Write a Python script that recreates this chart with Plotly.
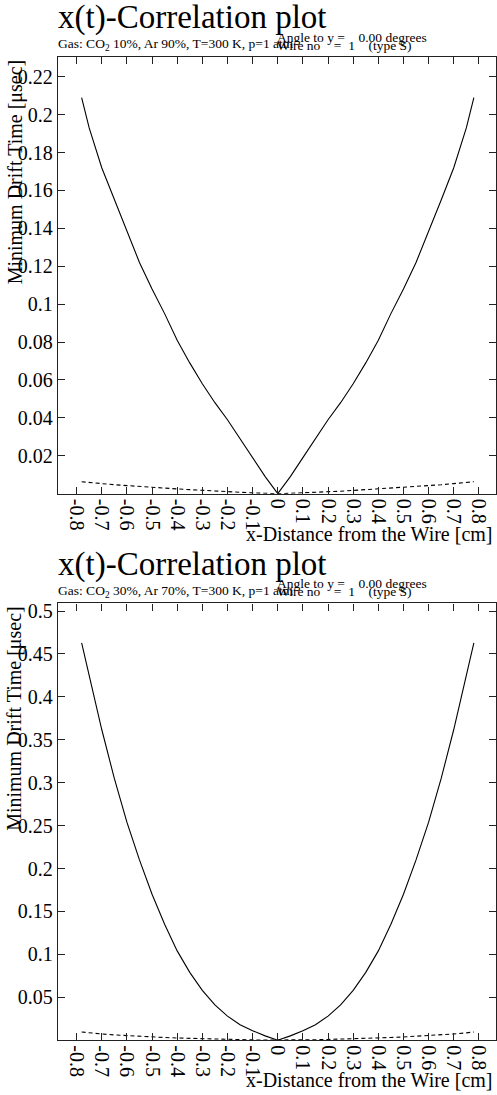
import plotly.graph_objects as go

# ---------------- data ----------------
x_dist = [-0.78, -0.75, -0.70, -0.65, -0.60, -0.55, -0.50, -0.45, -0.40, -0.35, -0.30,
          -0.25, -0.20, -0.15, -0.10, -0.05, 0.0, 0.05, 0.10, 0.15, 0.20, 0.25, 0.30,
          0.35, 0.40, 0.45, 0.50, 0.55, 0.60, 0.65, 0.70, 0.75, 0.78]

# panel 1 : CO2 10%, Ar 90%
t_min_1 = [0.209, 0.193, 0.172, 0.155, 0.138, 0.122, 0.108, 0.095, 0.081, 0.069, 0.058,
           0.048, 0.039, 0.029, 0.019, 0.009, 0.0, 0.009, 0.019, 0.029, 0.039, 0.048, 0.058,
           0.069, 0.081, 0.095, 0.108, 0.122, 0.138, 0.155, 0.172, 0.193, 0.209]
t_dash_1 = [0.0063, 0.0058, 0.0053, 0.0047, 0.0042, 0.0037, 0.0033, 0.0029, 0.0025, 0.0021, 0.0017,
            0.0013, 0.0010, 0.0007, 0.0004, 0.0002, 0.0, 0.0002, 0.0004, 0.0007, 0.0010, 0.0013, 0.0017,
            0.0021, 0.0025, 0.0029, 0.0033, 0.0037, 0.0042, 0.0047, 0.0053, 0.0058, 0.0063]

# panel 2 : CO2 30%, Ar 70%
t_min_2 = [0.463, 0.425, 0.362, 0.305, 0.254, 0.210, 0.170, 0.135, 0.104, 0.079, 0.058,
           0.041, 0.028, 0.018, 0.011, 0.005, 0.0, 0.005, 0.011, 0.018, 0.028, 0.041, 0.058,
           0.079, 0.104, 0.135, 0.170, 0.210, 0.254, 0.305, 0.362, 0.425, 0.463]
t_dash_2 = [0.0095, 0.0085, 0.0072, 0.0061, 0.0052, 0.0044, 0.0037, 0.0031, 0.0025, 0.0020, 0.0015,
            0.0011, 0.0008, 0.0005, 0.0003, 0.0001, 0.0, 0.0001, 0.0003, 0.0005, 0.0008, 0.0011, 0.0015,
            0.0020, 0.0025, 0.0031, 0.0037, 0.0044, 0.0052, 0.0061, 0.0072, 0.0085, 0.0095]

x_tickvals = [-0.8, -0.7, -0.6, -0.5, -0.4, -0.3, -0.2, -0.1, 0.0, 0.1, 0.2, 0.3, 0.4, 0.5, 0.6, 0.7, 0.8]
x_ticktext = ["-0.8", "-0.7", "-0.6", "-0.5", "-0.4", "-0.3", "-0.2", "-0.1", "0",
              "0.1", "0.2", "0.3", "0.4", "0.5", "0.6", "0.7", "0.8"]
y1_tickvals = [0.02, 0.04, 0.06, 0.08, 0.10, 0.12, 0.14, 0.16, 0.18, 0.20, 0.22]
y1_ticktext = ["0.02", "0.04", "0.06", "0.08", "0.1", "0.12", "0.14", "0.16", "0.18", "0.2", "0.22"]
y2_tickvals = [0.05, 0.10, 0.15, 0.20, 0.25, 0.30, 0.35, 0.40, 0.45, 0.50]
y2_ticktext = ["0.05", "0.1", "0.15", "0.2", "0.25", "0.3", "0.35", "0.4", "0.45", "0.5"]

gas_texts = ["Gas: CO<sub>2</sub> 10%, Ar 90%, T=300 K, p=1 atm",
             "Gas: CO<sub>2</sub> 30%, Ar 70%, T=300 K, p=1 atm"]
title_text = "x(t)-Correlation plot"
angle_text = "Angle to y =\u00a0\u00a0\u00a0\u00a00.00 degrees"
wire_text = "Wire no\u00a0\u00a0\u00a0\u00a0=\u00a0\u00a01\u00a0\u00a0\u00a0\u00a0(type S)"
x_title = "x-Distance from the Wire [cm]"
y_title = "Minimum Drift Time [\u03bcsec]"

# ---------------- layout helpers ----------------
W, H = 497, 1095
FONT = "Liberation Serif"
def px(x):
    return x / W
def py(y):
    return 1 - y / H

fig = go.Figure()
panels = [(t_min_1, t_dash_1, "x", "y", 0), (t_min_2, t_dash_2, "x2", "y2", 548)]
for tmin, tdash, xa, ya, dy in panels:
    fig.add_trace(go.Scatter(x=x_dist, y=tmin, mode="lines", xaxis=xa, yaxis=ya,
                             line=dict(color="black", width=1.1), showlegend=False,
                             hoverinfo="skip"))
    fig.add_trace(go.Scatter(x=x_dist, y=tdash, mode="lines", xaxis=xa, yaxis=ya,
                             line=dict(color="black", width=1.1, dash="4px,3px"), showlegend=False,
                             hoverinfo="skip"))

axis_common = dict(showline=True, linecolor="#222", linewidth=1.3, mirror="ticks",
                   ticks="inside", ticklen=7, tickwidth=1, tickcolor="#222",
                   showgrid=False, zeroline=False,
                   tickfont=dict(family=FONT, size=20, color="black"))

x_dom = [px(58), px(496)]
fig.update_layout(
    width=W, height=H, margin=dict(l=0, r=0, t=0, b=0),
    paper_bgcolor="white", plot_bgcolor="white",
    xaxis=dict(domain=x_dom, range=[-0.874, 0.868], anchor="y",
               tickvals=x_tickvals, ticktext=x_ticktext, tickangle=90, **axis_common),
    yaxis=dict(domain=[py(492), py(54)], range=[0, 0.2305], anchor="x",
               tickvals=y1_tickvals, ticktext=y1_ticktext, **axis_common),
    xaxis2=dict(domain=x_dom, range=[-0.874, 0.868], anchor="y2",
                tickvals=x_tickvals, ticktext=x_ticktext, tickangle=90, **axis_common),
    yaxis2=dict(domain=[py(1040), py(602)], range=[0, 0.509], anchor="x2",
                tickvals=y2_tickvals, ticktext=y2_ticktext, **axis_common),
)

ann = []
for i, (_, _, _, _, dy) in enumerate(panels):
    ann.append(dict(text=title_text, x=px(56), y=py(15 + dy), xanchor="left", yanchor="middle",
                    font=dict(family=FONT, size=33, color="black")))
    ann.append(dict(text=gas_texts[i], x=px(56), y=py(42 + dy), xanchor="left", yanchor="middle",
                    font=dict(family=FONT, size=13.5, color="black")))
    ann.append(dict(text=angle_text, x=px(275), y=py(34.5 + dy), xanchor="left", yanchor="middle",
                    font=dict(family=FONT, size=13.5, color="black")))
    ann.append(dict(text=wire_text, x=px(275), y=py(42.5 + dy), xanchor="left", yanchor="middle",
                    font=dict(family=FONT, size=13.5, color="black")))
    ann.append(dict(text=x_title, x=px(495), y=py(532 + dy), xanchor="right", yanchor="middle",
                    font=dict(family=FONT, size=20, color="black")))
    ann.append(dict(text=y_title, x=px(15), y=py(55 + dy), xanchor="center", yanchor="top",
                    textangle=-90, font=dict(family=FONT, size=20, color="black")))
for a in ann:
    a.update(xref="paper", yref="paper", showarrow=False)
fig.update_layout(annotations=ann)

fig.write_html("out.html", config={"displayModeBar": False},
               post_script="document.body.style.margin='0';document.body.style.overflow='hidden';")
